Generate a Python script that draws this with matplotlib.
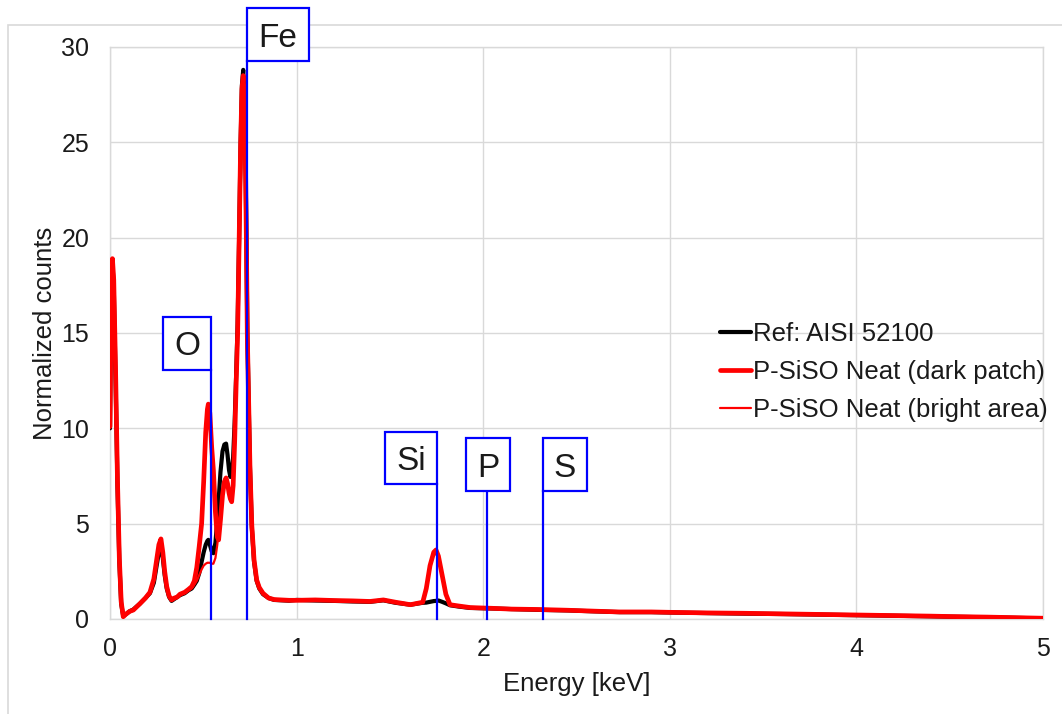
import matplotlib
matplotlib.use("Agg")
import matplotlib.pyplot as plt
from matplotlib.patches import Rectangle

plt.rcParams['font.family'] = ['Liberation Sans', 'DejaVu Sans']

# ---------------- data ----------------
energy_kev = [0.000, 0.006, 0.013, 0.020, 0.030, 0.040, 0.050, 0.060, 0.071, 0.085,
              0.105, 0.125, 0.160, 0.190, 0.214, 0.235, 0.250, 0.262, 0.273, 0.283,
              0.293, 0.304, 0.317, 0.330, 0.345, 0.360, 0.375, 0.400, 0.420, 0.438,
              0.452, 0.465, 0.478, 0.491, 0.502, 0.513, 0.522, 0.527, 0.535, 0.545,
              0.554, 0.565, 0.575, 0.582, 0.592, 0.603, 0.613, 0.622, 0.630, 0.638,
              0.645, 0.652, 0.660, 0.668, 0.676, 0.684, 0.692, 0.700, 0.707, 0.714,
              0.720, 0.725, 0.731, 0.736, 0.741, 0.750, 0.760, 0.772, 0.786, 0.800,
              0.820, 0.850, 0.880, 0.920, 0.960, 1.000, 1.100, 1.200, 1.300, 1.393,
              1.465, 1.530, 1.610, 1.676, 1.695, 1.715, 1.735, 1.747, 1.760, 1.780,
              1.800, 1.822, 1.870, 1.930, 2.050, 2.150, 2.290, 2.450, 2.600, 2.730,
              2.900, 3.000, 3.200, 3.400, 3.600, 3.800, 4.000, 4.200, 4.400, 4.500,
              4.700, 4.850, 5.000]

ref_aisi = [10.0, 16.5, 18.6, 17.5, 12.5, 7.0, 3.0, 0.8, 0.15, 0.25,
            0.4, 0.5, 0.8, 1.1, 1.35, 1.9, 2.8, 3.5, 3.75, 3.2,
            2.3, 1.6, 1.15, 0.95, 1.05, 1.15, 1.25, 1.35, 1.5, 1.6,
            1.8, 2.0, 2.4, 3.0, 3.5, 3.9, 4.1, 4.15, 3.9, 3.55,
            3.45, 4.0, 5.2, 6.2, 7.7, 8.8, 9.15, 9.2, 8.6, 7.8,
            7.45, 7.7, 8.5, 10.3, 12.8, 15.5, 20.0, 25.0, 28.0, 28.8,
            27.5, 25.0, 20.0, 15.0, 12.5, 8.0, 4.8, 3.0, 2.0, 1.6,
            1.3, 1.1, 1.0, 0.98, 0.96, 1.0, 0.97, 0.95, 0.92, 0.9,
            0.98, 0.85, 0.75, 0.85, 0.86, 0.9, 0.94, 0.95, 0.97, 0.9,
            0.82, 0.72, 0.65, 0.58, 0.55, 0.52, 0.48, 0.45, 0.4, 0.36,
            0.36, 0.34, 0.31, 0.28, 0.26, 0.23, 0.2, 0.17, 0.14, 0.12,
            0.09, 0.06, 0.03]

dark_patch = [10.1, 17.0, 18.9, 17.8, 13.0, 7.3, 3.2, 0.9, 0.12, 0.25,
              0.4, 0.47, 0.8, 1.1, 1.4, 2.1, 3.1, 3.9, 4.2, 3.5,
              2.5, 1.7, 1.2, 1.0, 1.1, 1.15, 1.3, 1.4, 1.55, 1.7,
              2.0, 2.7, 3.8, 5.0, 7.2, 9.8, 11.0, 11.27, 10.8, 9.0,
              7.8, 5.6, 4.3, 4.15, 5.2, 6.5, 7.2, 7.4, 7.1, 6.6,
              6.3, 6.15, 7.0, 9.3, 12.3, 15.0, 19.8, 24.8, 27.8, 28.5,
              27.2, 24.8, 19.8, 14.8, 12.4, 8.0, 4.9, 3.1, 2.05, 1.65,
              1.35, 1.1, 1.02, 1.0, 0.98, 0.98, 1.0, 0.97, 0.95, 0.92,
              1.0, 0.88, 0.75, 0.88, 1.6, 2.8, 3.5, 3.62, 3.3, 2.3,
              1.3, 0.75, 0.68, 0.6, 0.56, 0.52, 0.5, 0.46, 0.41, 0.37,
              0.37, 0.35, 0.32, 0.3, 0.27, 0.24, 0.21, 0.18, 0.15, 0.13,
              0.1, 0.07, 0.04]

bright_area = [10.0, 16.7, 18.7, 17.6, 12.7, 7.1, 3.1, 0.8, 0.15, 0.25,
               0.4, 0.5, 0.8, 1.1, 1.35, 2.0, 2.9, 3.6, 3.9, 3.3,
               2.4, 1.6, 1.15, 0.95, 1.05, 1.15, 1.25, 1.35, 1.5, 1.6,
               1.8, 2.0, 2.3, 2.6, 2.8, 2.9, 2.95, 2.95, 2.95, 2.9,
               2.9, 3.2, 3.9, 4.6, 5.6, 6.6, 7.2, 7.4, 7.1, 6.6,
               6.3, 6.15, 6.9, 9.0, 11.8, 14.2, 18.5, 22.5, 24.6, 25.0,
               24.5, 23.0, 19.0, 14.2, 12.0, 7.8, 4.8, 3.0, 2.0, 1.6,
               1.3, 1.1, 1.0, 0.98, 0.96, 1.0, 0.98, 0.95, 0.93, 0.9,
               0.98, 0.86, 0.75, 0.86, 1.5, 2.7, 3.4, 3.5, 3.2, 2.2,
               1.25, 0.75, 0.66, 0.58, 0.55, 0.52, 0.49, 0.45, 0.4, 0.36,
               0.36, 0.34, 0.31, 0.29, 0.26, 0.23, 0.2, 0.17, 0.14, 0.12,
               0.09, 0.06, 0.03]

series_labels = ["Ref: AISI 52100", "P-SiSO Neat (dark patch)", "P-SiSO Neat (bright area)"]

element_names = ["O", "Fe", "Si", "P", "S"]
element_kev = [0.541, 0.734, 1.752, 2.02, 2.32]

x_ticks = [0, 1, 2, 3, 4, 5]
y_ticks = [0, 5, 10, 15, 20, 25, 30]

# ---------------- layout (label boxes, data units) ----------------
# (box left, box right, box bottom, box top)
box_layout = [(0.284, 0.541, 13.06, 15.84),
              (0.734, 1.066, 29.26, 32.04),
              (1.474, 1.752, 7.08, 9.81),
              (1.908, 2.144, 6.71, 9.49),
              (2.320, 2.556, 6.71, 9.49)]

W, H = 1062, 714
fig = plt.figure(figsize=(W / 100, H / 100), dpi=100)
ax = fig.add_axes([110 / W, 1 - 619 / H, (1043 - 110) / W, (619 - 47) / H])
ax.set_zorder(2)
ax.patch.set_alpha(0)

grid_c = '#d9d9d9'
txt_c = '#1a1a1a'

# outer chart-area frame (behind everything)
fig.patches.append(Rectangle((8 / W, -0.01), 1.1, 1 - 25 / H + 0.01,
                             transform=fig.transFigure, fill=False,
                             edgecolor=grid_c, linewidth=1.2, zorder=-5))

line_kw = dict(solid_joinstyle='round', solid_capstyle='round')
ax.plot(energy_kev, ref_aisi, color='black', lw=3.0, label=series_labels[0], zorder=3, **line_kw)
ax.plot(energy_kev, dark_patch, color='#ff0000', lw=3.4, label=series_labels[1], zorder=4, **line_kw)
ax.plot(energy_kev, bright_area, color='#ff0000', lw=1.6, label=series_labels[2], zorder=5, **line_kw)

ax.set_xlim(0, 5)
ax.set_ylim(0, 30)
ax.set_xticks(x_ticks)
ax.set_yticks(y_ticks)
ax.grid(True, color=grid_c, lw=1.0, zorder=0)
ax.set_axisbelow(True)
for s in ax.spines.values():
    s.set_color(grid_c)
    s.set_linewidth(1.0)
ax.tick_params(length=0, labelsize=18, colors=txt_c)
ax.tick_params(axis='x', pad=13)
ax.tick_params(axis='y', pad=15)

ax.set_xlabel("Energy [keV]", fontsize=18.5, color=txt_c, labelpad=8)
ax.set_ylabel("Normalized counts", fontsize=18.5, color=txt_c, labelpad=3)

# element markers
for name, e, (bl, br, bb, bt) in zip(element_names, element_kev, box_layout):
    ax.plot([e, e], [0, bb], color='#0000ff', lw=1.6, zorder=6, clip_on=False)
    ax.add_patch(Rectangle((bl, bb), br - bl, bt - bb, facecolor='white',
                           edgecolor='#0000ff', lw=1.6, zorder=7, clip_on=False))
    ax.text((bl + br) / 2, (bb + bt) / 2, name, fontsize=24, color=txt_c,
            ha='center', va='center_baseline', zorder=8, clip_on=False)

leg = ax.legend(loc='center left', bbox_to_anchor=(720 / W, 1 - 372 / H),
                bbox_transform=fig.transFigure, frameon=False, fontsize=18.5,
                handlelength=1.2, handletextpad=0.1, labelspacing=0.55,
                borderpad=0, borderaxespad=0)
for t in leg.get_texts():
    t.set_color(txt_c)

fig.savefig("out.png", dpi=100)
